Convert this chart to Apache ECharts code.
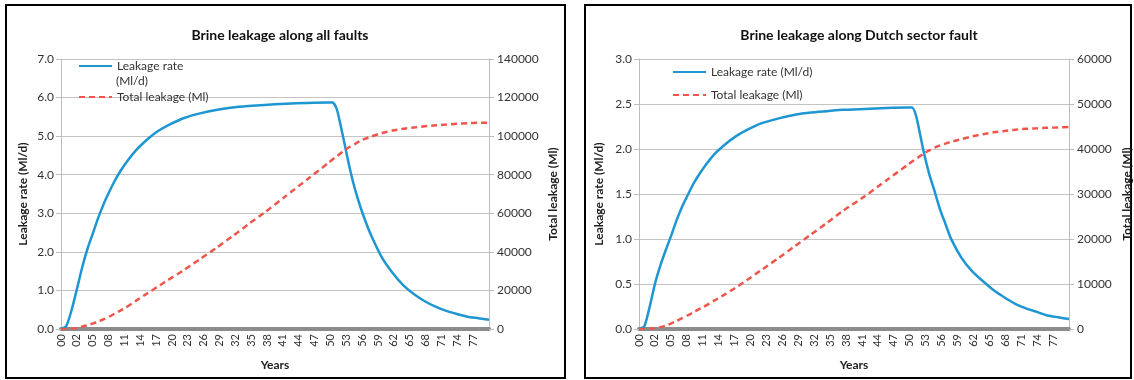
<!DOCTYPE html>
<html><head><meta charset="utf-8">
<script src="https://cdn.jsdelivr.net/npm/echarts@6/dist/echarts.min.js"></script>
<style>html,body{margin:0;padding:0;background:#fff}#c{width:1134px;height:380px}</style>
</head><body><div id="c"></div>
<script>
// ---- data ----
const years = [0,1,2,3,4,5,6,7,8,9,10,11,12,14,16,18,20,23,26,29,32,35,38,42,46,50,50.8,51.5,52,53,54,55,56,57,58,60,62,64,66,68,70,72,74,76,78,80];
const tickLabels = ['00','02','05','08','11','14','17','20','23','26','29','32','35','38','41','44','47','50','53','56','59','62','65','68','71','74','77'];

// All faults
const allRate = [0,0.08,0.5,1.05,1.62,2.1,2.5,2.9,3.25,3.55,3.83,4.07,4.28,4.63,4.9,5.12,5.28,5.47,5.59,5.68,5.74,5.78,5.81,5.84,5.86,5.87,5.87,5.72,5.45,4.8,4.15,3.6,3.15,2.76,2.42,1.85,1.45,1.13,0.9,0.72,0.58,0.47,0.39,0.32,0.28,0.24];
const allTotal = [0,50,200,600,1300,2000,2900,3900,5100,6400,7900,9400,10900,14600,18200,21800,25400,30600,36300,42000,48000,54300,60300,68900,77500,86200,88000,89600,90500,92700,94500,96000,97700,98800,99800,101600,102900,103800,104500,105100,105600,106000,106400,106700,106900,107000];

// Dutch sector fault
const dutchRate = [0,0.03,0.25,0.51,0.71,0.88,1.04,1.21,1.355,1.48,1.6,1.7,1.79,1.94,2.05,2.14,2.21,2.29,2.34,2.38,2.405,2.42,2.435,2.445,2.455,2.46,2.46,2.38,2.25,1.96,1.72,1.53,1.33,1.17,1.01,0.79,0.64,0.53,0.43,0.35,0.28,0.23,0.19,0.15,0.13,0.11];
const dutchTotal = [0,10,60,200,420,750,1250,1800,2400,3000,3600,4300,4900,6300,7700,9200,10800,13300,15800,18400,21000,23600,26300,29500,33000,36500,37200,37800,38200,39000,39700,40300,40800,41200,41600,42200,42800,43300,43700,44000,44300,44500,44600,44700,44800,44900];

const titles = ['Brine leakage along all faults','Brine leakage along Dutch sector fault'];
const rateNames = ['Leakage rate','Leakage rate (Ml/d)'];
const totalName = 'Total leakage (Ml)';

// ---- styles ----
const FONT = 'Lato, "Liberation Sans", sans-serif';
const BLUE = '#1e96d2', RED = '#f0554b', GRID = '#c4c4c4', TXT = '#333';
const pair = (vals) => years.map((y,i)=>[y, vals[i]]);

function xAxisFor(gi){
  return {type:'value', gridIndex:gi, min:0, max:80, interval:80/27,
    name:'Years', nameLocation:'middle', nameGap:30,
    nameTextStyle:{fontFamily:FONT,fontWeight:'bold',fontSize:12,color:'#222'},
    axisLine:{show:true, onZero:false, lineStyle:{color:'#8c8c8c',width:4}},
    axisTick:{show:false}, splitLine:{show:false},
    axisLabel:{rotate:90, margin:5, fontFamily:FONT, fontSize:11, color:TXT,
      formatter:(v)=>{const k=Math.round(v*27/80); return tickLabels[k]!==undefined?tickLabels[k]:'';}}
  };
}
function yLeft(gi,max,step,gap){
  return {type:'value', gridIndex:gi, min:0, max:max, interval:step, position:'left',
    name:'Leakage rate (Ml/d)', nameLocation:'middle', nameGap:gap,
    nameTextStyle:{fontFamily:FONT,fontWeight:'bold',fontSize:12,color:'#222'},
    axisLine:{show:true,lineStyle:{color:'#bdbdbd',width:1}},
    axisTick:{show:true,length:5,lineStyle:{color:'#bdbdbd'}},
    splitLine:{show:true,lineStyle:{color:GRID,width:1}},
    axisLabel:{margin:7,fontFamily:FONT,fontSize:12,color:TXT,formatter:(v)=>v.toFixed(1)}
  };
}
function yRight(gi,max,step,gap){
  return {type:'value', gridIndex:gi, min:0, max:max, interval:step, position:'right',
    name:'Total leakage (Ml)', nameLocation:'middle', nameGap:gap, nameRotate:90,
    nameTextStyle:{fontFamily:FONT,fontWeight:'bold',fontSize:12,color:'#222'},
    axisLine:{show:true,lineStyle:{color:'#bdbdbd',width:1}},
    axisTick:{show:true,length:5,lineStyle:{color:'#bdbdbd'}},
    splitLine:{show:false},
    axisLabel:{margin:8,fontFamily:FONT,fontSize:12,color:TXT,formatter:(v)=>String(v)}
  };
}
function rateSeries(name,xi,yi,vals){
  return {name:name,type:'line',xAxisIndex:xi,yAxisIndex:yi,data:pair(vals),
    symbol:'none',smooth:0.2,lineStyle:{color:BLUE,width:2.5},itemStyle:{color:BLUE},z:3};
}
function totalSeries(xi,yi,vals){
  return {name:totalName,type:'line',xAxisIndex:xi,yAxisIndex:yi,data:pair(vals),
    symbol:'none',smooth:0.2,lineStyle:{color:RED,width:2.5,type:[6,4]},itemStyle:{color:RED},z:4};
}
const legendText = {fontFamily:FONT,fontSize:12,color:TXT};
const legendBase = {itemWidth:33,itemHeight:12,padding:0,textStyle:legendText,selectedMode:false,itemStyle:{opacity:0}};

const option = {
  backgroundColor:'#fff',
  animation:false,
  title:[
    {text:titles[0],left:275,top:23,textAlign:'center',textStyle:{fontFamily:FONT,fontWeight:'bold',fontSize:14,color:'#111'}},
    {text:titles[1],left:854,top:23,textAlign:'center',textStyle:{fontFamily:FONT,fontWeight:'bold',fontSize:14,color:'#111'}}
  ],
  grid:[
    {left:61,right:645,top:59,bottom:51},
    {left:639,right:65,top:59,bottom:51}
  ],
  xAxis:[xAxisFor(0),xAxisFor(1)],
  yAxis:[yLeft(0,7,1,32),yRight(0,140000,20000,58),yLeft(1,3,0.5,34),yRight(1,60000,10000,52)],
  legend:[
    Object.assign({data:[rateNames[0]],left:78,top:60},legendBase),
    Object.assign({data:[totalName],left:78,top:91},legendBase),
    Object.assign({data:[rateNames[1]],left:672,top:66},legendBase),
    Object.assign({data:[totalName],left:672,top:89},legendBase)
  ],
  graphic:[
    {type:'rect',shape:{x:6,y:5,width:559,height:373},style:{fill:'none',stroke:'#000',lineWidth:2},silent:true},
    {type:'rect',shape:{x:585,y:5,width:546,height:373},style:{fill:'none',stroke:'#000',lineWidth:2},silent:true},
    {type:'text',left:116,top:75,style:{text:'(Ml/d)',font:'12px '+FONT,fill:TXT},silent:true}
  ],
  series:[
    rateSeries(rateNames[0],0,0,allRate),
    totalSeries(0,1,allTotal),
    rateSeries(rateNames[1],1,2,dutchRate),
    totalSeries(1,3,dutchTotal)
  ]
};
const chart = echarts.init(document.getElementById('c'),null,{renderer:'canvas'});
chart.setOption(option);
</script></body></html>
